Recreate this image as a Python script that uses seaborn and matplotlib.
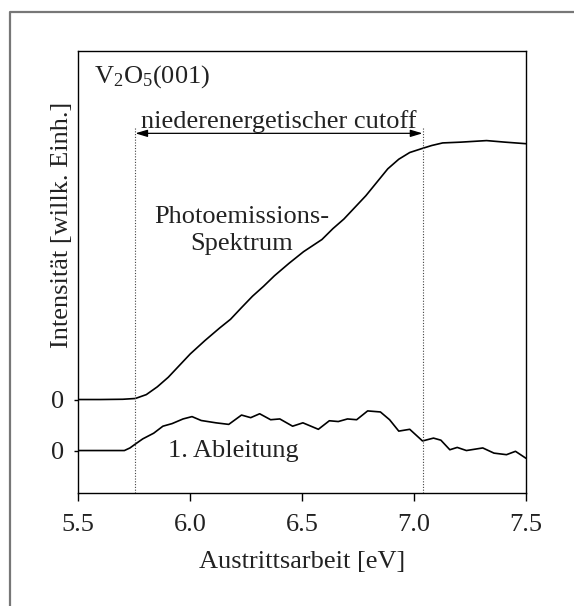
import matplotlib
matplotlib.use("Agg")
import matplotlib.pyplot as plt
from matplotlib.lines import Line2D
import seaborn as sns
import pandas as pd

# ---------------- data ----------------
energy_spec = [5.50, 5.60, 5.70, 5.756, 5.805, 5.854, 5.903, 5.952, 6.001, 6.067,
               6.132, 6.181, 6.230, 6.279, 6.328, 6.377, 6.442, 6.507, 6.589, 6.638,
               6.687, 6.736, 6.785, 6.834, 6.883, 6.932, 6.981, 7.038, 7.079, 7.128,
               7.209, 7.324, 7.406, 7.50]
spectrum = [0.0, 0.0, 0.001, 0.004, 0.019, 0.049, 0.086, 0.131, 0.176, 0.228,
            0.276, 0.310, 0.355, 0.399, 0.437, 0.478, 0.526, 0.571, 0.618, 0.660,
            0.697, 0.742, 0.787, 0.839, 0.891, 0.928, 0.954, 0.970, 0.981, 0.991,
            0.994, 1.000, 0.994, 0.988]

energy_deriv = [5.50, 5.60, 5.707, 5.732, 5.756, 5.789, 5.838, 5.879, 5.920, 5.969,
                6.009, 6.050, 6.116, 6.173, 6.230, 6.271, 6.311, 6.360, 6.401, 6.458,
                6.504, 6.573, 6.622, 6.662, 6.703, 6.744, 6.793, 6.850, 6.891, 6.932,
                6.981, 7.038, 7.087, 7.120, 7.160, 7.193, 7.234, 7.307, 7.357, 7.413,
                7.453, 7.50]
derivative = [0.0, 0.0, 0.0, 0.010, 0.025, 0.045, 0.067, 0.094, 0.104, 0.122,
              0.131, 0.116, 0.107, 0.101, 0.137, 0.127, 0.142, 0.119, 0.122, 0.094,
              0.107, 0.082, 0.115, 0.112, 0.122, 0.119, 0.153, 0.149, 0.119, 0.075,
              0.082, 0.037, 0.048, 0.040, 0.003, 0.012, 0.0, 0.010, -0.010, -0.016,
              -0.003, -0.030]
deriv_offset = -0.197

cutoff_low = 5.756
cutoff_high = 7.038

xticks = [5.5, 6.0, 6.5, 7.0, 7.5]
xtick_labels = ["5.5", "6.0", "6.5", "7.0", "7.5"]
ytick_labels = ["0", "0"]

# ---------------- style ----------------
sns.set_theme(style="ticks")
plt.rcParams["font.family"] = ["Liberation Serif", "DejaVu Serif"]
plt.rcParams["mathtext.fontset"] = "custom"
plt.rcParams["mathtext.rm"] = "Liberation Serif"
plt.rcParams["mathtext.it"] = "Liberation Serif:italic"
FS = 19
TC = "#222222"

fig = plt.figure(figsize=(5.74, 6.06), dpi=100)
ax = fig.add_axes([78/574, 1-493/606, 448/574, 442/606])

df_spec = pd.DataFrame({"E": energy_spec, "I": spectrum})
df_der = pd.DataFrame({"E": energy_deriv, "I": [v + deriv_offset for v in derivative]})

sns.lineplot(data=df_spec, x="E", y="I", ax=ax, color="black", lw=1.2)
sns.lineplot(data=df_der, x="E", y="I", ax=ax, color="black", lw=1.2)

ax.set_xlim(5.5, 7.5)
ax.set_ylim(-0.361, 1.346)

# cutoff markers
for xc in (cutoff_low, cutoff_high):
    ax.plot([xc, xc], [-0.361, 1.054], color="#444444", lw=0.8, ls=(0, (1, 1.5)))

ax.annotate("", xy=(cutoff_low, 1.028), xytext=(cutoff_high, 1.028),
            arrowprops=dict(arrowstyle="<|-|>,head_length=0.6,head_width=0.18",
                            color="black", lw=0.9, shrinkA=0, shrinkB=0))
ax.text((cutoff_low + cutoff_high) / 2, 1.050, "niederenergetischer cutoff",
        ha="center", va="baseline", fontsize=FS, color=TC)

ax.text(5.573, 1.249, r"V$_2$O$_5$(001)", ha="left", va="center", fontsize=FS, color=TC)
ax.text(6.23, 0.652, "Photoemissions-\nSpektrum", ha="center", va="center",
        fontsize=FS, color=TC, linespacing=1.3)
ax.text(6.192, -0.20, "1. Ableitung", ha="center", va="center", fontsize=FS, color=TC)

ax.set_xticks(xticks)
ax.set_xticklabels(xtick_labels)
ax.set_yticks([0.0, deriv_offset])
ax.set_yticklabels(ytick_labels)
ax.tick_params(axis="x", direction="out", length=6, width=1.0, pad=9, labelsize=FS,
               labelcolor=TC, color="black")
ax.tick_params(axis="y", direction="out", length=3, width=1.0, pad=7, labelsize=FS,
               labelcolor=TC, color="black")

ax.set_xlabel("Austrittsarbeit [eV]", fontsize=FS, color=TC, labelpad=11)
ax.set_ylabel("Intensität [willk. Einh.]", fontsize=FS, color=TC)
ax.yaxis.set_label_coords(-0.012, 0.606)

for s in ax.spines.values():
    s.set_visible(True)
    s.set_color("black")
    s.set_linewidth(1.0)

# outer frame (partial border of the original figure)
fig.add_artist(Line2D([10/574, 10/574, 1.0], [0.0, 1-12/606, 1-12/606],
                      transform=fig.transFigure, color="#777777", lw=1.6))

fig.savefig("out.png", dpi=100, facecolor="white")
